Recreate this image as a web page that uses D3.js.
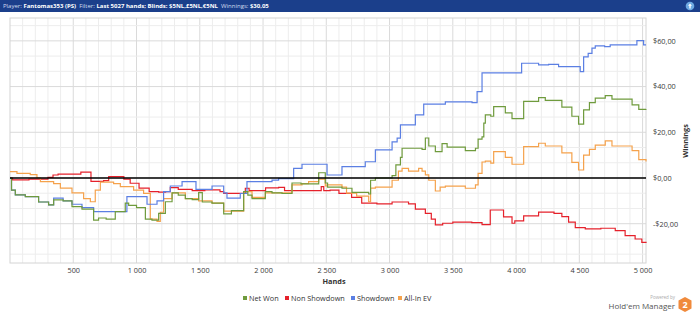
<!DOCTYPE html>
<html>
<head>
<meta charset="utf-8">
<script src="https://cdn.jsdelivr.net/npm/d3@7"></script>
<style>
  body { margin: 0; background: #fff; }
  svg text { font-family: "Open Sans", "Noto Sans", sans-serif; }
</style>
</head>
<body>
<svg id="chart" width="700" height="318"></svg>
<script>
// hands played (x) and $ won (y)
var netWon = [[0,0],[12,-5.3],[42,-7.4],[121,-8.2],[226,-10.5],[305,-11.8],[345,-9.6],[420,-10],[490,-12.5],[569,-13.6],
	[661,-18.4],[700,-17.5],[760,-18],[832,-14.7],[911,-11],[938,-12],[1000,-13],[1070,-18],[1122,-18.4],[1175,-15.5],
	[1228,-10.4],[1281,-6.5],[1330,-7.5],[1386,-9],[1440,-9.5],[1491,-6.4],[1520,-10.5],[1597,-11],[1689,-15.7],[1750,-14.3],
	[1847,-6],[1880,-7.5],[1913,-9],[2018,-6],[2071,-6.5],[2150,-6.8],[2229,-2.2],[2300,-2.6],[2440,2.3],[2492,-2.2],
	[2510,-4],[2624,-4.5],[2703,-6.3],[2835,-7],[2850,-1],[2888,0],[3020,1],[3050,5.7],[3086,9],[3099,13],
	[3257,12.5],[3283,17.5],[3310,14],[3362,11.5],[3415,15],[3455,13.5],[3599,12],[3679,13],[3700,17],[3731,18],
	[3745,24],[3757,27.6],[3800,27],[3823,31.2],[3915,28.5],[3968,26],[4060,33.5],[4178,35.2],[4231,34],[4362,31],
	[4441,27],[4494,23.6],[4534,29.8],[4580,33],[4626,34.9],[4705,36],[4758,34.5],[4917,32],[4970,30],[5027,30.05]];

var nonShowdown = [[0,0],[20,-0.8],[150,-0.5],[300,0.3],[340,1.3],[380,1.7],[560,2.6],[640,-1.5],[740,-1.2],[780,0.6],
	[900,-0.5],[950,-2.3],[1020,-4.4],[1100,-6],[1175,-6.2],[1230,-6],[1267,-4.2],[1330,-5],[1440,-5.5],[1540,-5.2],
	[1660,-6],[1689,-6.7],[1860,-4.5],[1890,-5.5],[2020,-4.3],[2123,-4.1],[2170,-5.5],[2440,-5.5],[2460,-3.8],[2480,-5.5],
	[2530,-5.3],[2600,-6.7],[2700,-8.5],[2780,-11],[2900,-11.3],[3020,-10.5],[3150,-11.3],[3204,-13.6],[3283,-15.5],[3330,-18],
	[3362,-20.5],[3420,-19.8],[3500,-19.3],[3650,-19.5],[3731,-20.4],[3796,-14],[3901,-17],[3968,-19.8],[3990,-18.8],[4060,-16.6],
	[4178,-14.9],[4300,-15.5],[4362,-16.9],[4415,-19.3],[4468,-21.7],[4547,-22.3],[4670,-22],[4784,-23],[4862,-25.2],[4941,-26.7],
	[4994,-28.2],[5027,-28.5]];

var showdown = [[0,0],[12,-5.3],[42,-7.4],[121,-8.2],[226,-10.5],[305,-11.8],[345,-8.8],[420,-10],[490,-11.5],[569,-13],
	[661,-14.7],[924,-8.2],[1083,-11.5],[1162,-10],[1214,-6],[1267,-3.5],[1360,-1.6],[1470,-5],[1597,-3.5],[1689,-6.5],
	[1715,-8.8],[1820,-6.8],[1873,-1.6],[2071,-0.9],[2123,-0.3],[2242,4.2],[2308,6],[2466,6],[2506,1.3],[2624,5],
	[2808,7.1],[2888,12.3],[3020,15.8],[3060,17.4],[3086,23.2],[3204,27.6],[3270,32.3],[3441,33.3],[3652,33],[3692,37.8],
	[3731,46],[4044,50.2],[4178,49.5],[4257,49.7],[4336,48.7],[4507,46.5],[4534,53],[4570,54.5],[4600,56.8],[4626,57.8],
	[4700,57.5],[4744,58.2],[4955,60.1],[5008,58.2],[5027,58.2]];

var allInEV = [[0,2.8],[55,2],[160,1.5],[213,0],[240,-1.6],[345,-2.5],[398,-4.4],[490,-6.5],[582,-9],[635,-10.4],
	[674,-5.3],[714,-1.8],[819,-2.5],[872,-3.8],[977,-5.3],[1056,-6.7],[1109,-18],[1162,-19],[1188,-15],[1214,-9],
	[1281,-6.5],[1386,-9],[1491,-10],[1597,-11],[1689,-14.5],[1847,-6],[1913,-8.5],[2018,-6.5],[2229,-3],[2308,-2.5],
	[2360,-1.6],[2440,-0.5],[2492,-3.5],[2506,-3],[2624,-4],[2660,-6.6],[2740,-7.9],[2835,-10.4],[2850,-4.4],[2888,-4],
	[3020,-1],[3070,3],[3099,4.2],[3150,3],[3230,4.2],[3257,3],[3283,1.4],[3310,-1],[3362,-5.7],[3400,-4],
	[3441,-3.6],[3599,-4.5],[3679,-3],[3700,2],[3731,7],[3757,7.4],[3800,6.5],[3823,11.5],[3915,9],[3968,6],
	[4060,13.7],[4178,15.2],[4231,14],[4362,11],[4441,6.8],[4494,3.5],[4534,10],[4580,12.5],[4626,14.4],[4705,16.2],
	[4758,14],[4917,12],[4970,8],[5027,7.2]];

var seriesNames = ["Net Won", "Non Showdown", "Showdown", "All-In EV"];
var seriesColors = ["#6f9b3d", "#e5212b", "#5b7fe3", "#f5a24c"];
var xTicks = [500, 1000, 1500, 2000, 2500, 3000, 3500, 4000, 4500, 5000];
var yTicks = [-20, 0, 20, 40, 60];

var svg = d3.select("#chart");
var plotL = 10, plotR = 646, plotT = 18, plotB = 263;

var x = d3.scaleLinear().domain([0, 5027]).range([plotL, plotR]);
var y = d3.scaleLinear().domain([-37.2, 70]).range([plotB, plotT]);

// header bar
svg.append("rect").attr("x", 0).attr("y", 0).attr("width", 700).attr("height", 12).attr("fill", "#1b3f8b");
var hdr = svg.append("text").attr("x", 3).attr("y", 8.4).attr("font-size", 6).attr("fill", "#fff");
[["Player: ", false], ["Fantomas353 (PS)", true], ["  Filter: ", false], ["Last 5027 hands; Blinds: $5NL,£5NL,€5NL", true],
	["  Winnings: ", false], ["$30,05", true]].forEach(function (p) {
	hdr.append("tspan").attr("font-weight", p[1] ? "bold" : "normal")
		.attr("fill", p[1] ? "#ffffff" : "#d3dcef").attr("xml:space", "preserve").text(p[0]);
});
svg.append("circle").attr("cx", 690).attr("cy", 6).attr("r", 4.3).attr("fill", "#6ea9e2");
svg.append("path").attr("d", "M690,3.4 L692,5.8 L690.7,5.8 L690.7,8.6 L689.3,8.6 L689.3,5.8 L688,5.8 Z").attr("fill", "#fff");

// grid
var grid = svg.append("g");
d3.range(100, 5027, 100).forEach(function (h) {
	grid.append("line").attr("x1", x(h)).attr("x2", x(h)).attr("y1", plotT).attr("y2", plotB)
		.attr("stroke", h % 500 == 0 ? "#dadada" : "#ededed").attr("stroke-width", 1);
});
d3.range(-5, 11).forEach(function (k) {
	var v = k * 20 / 3;
	grid.append("line").attr("x1", plotL).attr("x2", plotR).attr("y1", y(v)).attr("y2", y(v))
		.attr("stroke", k % 3 == 0 ? "#dadada" : "#ededed").attr("stroke-width", 1);
});
grid.append("rect").attr("x", plotL).attr("y", plotT).attr("width", plotR - plotL).attr("height", plotB - plotT)
	.attr("fill", "none").attr("stroke", "#d4d4d4");

// lines
var line = d3.line().x(function (d) { return x(d[0]); }).y(function (d) { return y(d[1]); }).curve(d3.curveStepAfter);
var allSeries = [netWon, nonShowdown, showdown, allInEV];
[1, 3, 2, 0].forEach(function (i) {
	svg.append("path").datum(allSeries[i]).attr("d", line).attr("fill", "none")
		.attr("stroke", seriesColors[i]).attr("stroke-width", 1.2);
});

svg.append("line").attr("x1", plotL).attr("x2", plotR).attr("y1", y(0)).attr("y2", y(0))
	.attr("stroke", "#000").attr("stroke-width", 1.5);

// axes
var fmtX = function (d) { return d >= 1000 ? Math.floor(d / 1000) + " " + String(d % 1000).padStart(3, "0") : String(d); };
var fmtY = function (v) { return (v < 0 ? "-" : "") + "$" + Math.abs(v).toFixed(2).replace(".", ","); };

var xAxis = svg.append("g").attr("transform", "translate(0," + plotB + ")")
	.call(d3.axisBottom(x).tickValues(xTicks).tickFormat(fmtX).tickSize(0).tickPadding(5));
var yAxis = svg.append("g").attr("transform", "translate(" + (plotR + 7) + ",0)")
	.call(d3.axisRight(y).tickValues(yTicks).tickFormat(fmtY).tickSize(0).tickPadding(0));
[xAxis, yAxis].forEach(function (a) {
	a.select(".domain").remove();
	a.selectAll("text").attr("font-size", 7.3).attr("fill", "#3a3a3a")
		.style("font-family", "'Open Sans', 'Noto Sans', sans-serif");
});

svg.append("text").attr("x", 334).attr("y", 284).attr("text-anchor", "middle")
	.attr("font-size", 7.3).attr("font-weight", "bold").attr("fill", "#333").text("Hands");
svg.append("text").attr("transform", "translate(688,141) rotate(-90)").attr("text-anchor", "middle")
	.attr("font-size", 7.3).attr("font-weight", "bold").attr("fill", "#333").text("Winnings");

// legend
var legX = [243, 285, 351, 398];
seriesNames.forEach(function (n, i) {
	svg.append("rect").attr("x", legX[i]).attr("y", 296).attr("width", 4).attr("height", 4).attr("fill", seriesColors[i]);
	svg.append("text").attr("x", legX[i] + 6).attr("y", 300.5).attr("font-size", 7.3).attr("fill", "#333").text(n);
});

// powered by
svg.append("text").attr("x", 675).attr("y", 299).attr("text-anchor", "end").attr("font-size", 4.5)
	.attr("fill", "#aaa").text("Powered by");
svg.append("text").attr("x", 675).attr("y", 309).attr("text-anchor", "end").attr("font-size", 8)
	.attr("fill", "#555").text("Hold'em Manager");
svg.append("path").attr("d", "M685,297 L691.5,300.5 L691.5,308.5 L685,312 L678.5,308.5 L678.5,300.5 Z")
	.attr("fill", "#f08a3c");
svg.append("text").attr("x", 685).attr("y", 308).attr("text-anchor", "middle").attr("font-size", 9)
	.attr("font-weight", "bold").attr("fill", "#fff").text("2");
</script>
</body>
</html>
